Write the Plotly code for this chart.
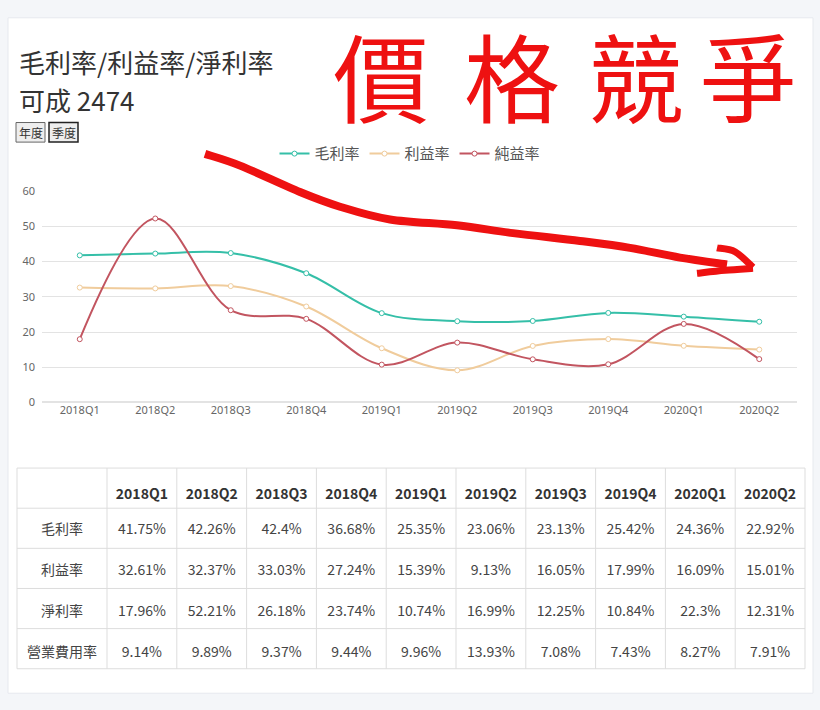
import plotly.graph_objects as go

# ---------------- data ----------------
quarters = ["2018Q1", "2018Q2", "2018Q3", "2018Q4", "2019Q1",
            "2019Q2", "2019Q3", "2019Q4", "2020Q1", "2020Q2"]
gross_margin = [41.75, 42.26, 42.4, 36.68, 25.35, 23.06, 23.13, 25.42, 24.36, 22.92]
operating_margin = [32.61, 32.37, 33.03, 27.24, 15.39, 9.13, 16.05, 17.99, 16.09, 15.01]
net_margin = [17.96, 52.21, 26.18, 23.74, 10.74, 16.99, 12.25, 10.84, 22.3, 12.31]
opex_ratio = [9.14, 9.89, 9.37, 9.44, 9.96, 13.93, 7.08, 7.43, 8.27, 7.91]

legend_names = ["毛利率", "利益率", "純益率"]
row_labels = ["毛利率", "利益率", "淨利率", "營業費用率"]
title_line1 = "毛利率/利益率/淨利率"
title_line2 = "可成 2474"
buttons = ["年度", "季度"]
handwritten = ["價", "格", "競", "爭"]

# ---------------- layout helpers ----------------
W, H = 820, 710


def px(x):
    return x / W


def py(y):
    return 1 - y / H


FONT = "Noto Sans CJK TC, Noto Sans, sans-serif"
colors = ["#35bfa8", "#f0cc9c", "#c25560"]

fig = go.Figure()

for name, vals, col in zip(legend_names, [gross_margin, operating_margin, net_margin], colors):
    fig.add_trace(go.Scatter(
        x=quarters, y=vals, name=name, mode="lines+markers",
        line=dict(color=col, width=2, shape="spline", smoothing=1.0),
        marker=dict(symbol="circle", size=5, color="white", line=dict(color=col, width=1)),
        hoverinfo="x+y+name",
    ))


def fmt(v):
    return f"{v:g}%"


table_cols = [row_labels] + [
    [fmt(gross_margin[i]), fmt(operating_margin[i]), fmt(net_margin[i]), fmt(opex_ratio[i])]
    for i in range(len(quarters))
]

# table geometry (pixels)
T_LEFT, T_TOP, ROW_H = 17, 470, 41
col_w = [90] + [69.8] * len(quarters)
n_rows = 1 + len(row_labels)
T_RIGHT = T_LEFT + sum(col_w)
T_BOTTOM = T_TOP + ROW_H * n_rows
TEXT_SHIFT = 7

fig.add_trace(go.Table(
    domain=dict(x=[px(T_LEFT), px(T_RIGHT)],
                y=[py(T_BOTTOM + TEXT_SHIFT + 2), py(T_TOP + TEXT_SHIFT)]),
    columnwidth=col_w,
    header=dict(
        values=[""] + [f"<b>{q}</b>" for q in quarters],
        align="center", height=ROW_H,
        font=dict(family=FONT, size=14, color="#333"),
        fill_color="rgba(0,0,0,0)", line_color="rgba(0,0,0,0)", line_width=0,
    ),
    cells=dict(
        values=table_cols, align="center", height=ROW_H,
        font=dict(family=FONT, size=14, color="#444"),
        fill_color="rgba(0,0,0,0)", line_color="rgba(0,0,0,0)", line_width=0,
    ),
))

# ---------------- decorations ----------------
shapes = [
    dict(type="rect", xref="paper", yref="paper", x0=px(8), x1=px(813), y0=py(700), y1=py(10),
         fillcolor="white", line=dict(color="#e6e9ee", width=1), layer="below"),
    dict(type="rect", xref="paper", yref="paper", x0=px(16), x1=px(45), y0=py(137), y1=py(117),
         fillcolor="#eeeeee", line=dict(color="#666666", width=1), layer="above"),
    dict(type="rect", xref="paper", yref="paper", x0=px(49), x1=px(78), y0=py(137), y1=py(117),
         fillcolor="#eeeeee", line=dict(color="#222222", width=1.5), layer="above"),
]

# table grid lines
for r in range(n_rows + 1):
    yy = T_TOP + r * ROW_H
    shapes.append(dict(type="line", xref="paper", yref="paper", x0=px(T_LEFT), x1=px(T_RIGHT),
                       y0=py(yy), y1=py(yy), line=dict(color="#dddddd", width=1), layer="below"))
xx = T_LEFT
for c in range(len(col_w) + 1):
    shapes.append(dict(type="line", xref="paper", yref="paper", x0=px(xx), x1=px(xx),
                       y0=py(T_TOP), y1=py(T_BOTTOM), line=dict(color="#dddddd", width=1),
                       layer="below"))
    if c < len(col_w):
        xx += col_w[c]

# hand-drawn arrow (decoration), catmull-rom -> bezier in paper coords
arrow_pts = [(205, 149), (240, 161), (300, 188), (340, 203), (390, 216), (457, 222),
             (513, 230), (580, 238), (630, 245), (680, 255), (727, 262)]


def smooth_path(pts):
    P = [(px(x), py(y)) for x, y in pts]
    d = f"M {P[0][0]},{P[0][1]}"
    for i in range(len(P) - 1):
        p0 = P[i - 1] if i > 0 else P[i]
        p1, p2 = P[i], P[i + 1]
        p3 = P[i + 2] if i + 2 < len(P) else P[i + 1]
        c1 = (p1[0] + (p2[0] - p0[0]) / 6, p1[1] + (p2[1] - p0[1]) / 6)
        c2 = (p2[0] - (p3[0] - p1[0]) / 6, p2[1] - (p3[1] - p1[1]) / 6)
        d += f" C {c1[0]},{c1[1]} {c2[0]},{c2[1]} {p2[0]},{p2[1]}"
    return d


red = "#ee1111"
shapes.append(dict(type="path", xref="paper", yref="paper", path=smooth_path(arrow_pts),
                   line=dict(color=red, width=8), layer="above"))
shapes.append(dict(type="path", xref="paper", yref="paper",
                   path=smooth_path([(697, 271), (725, 268), (753, 266)]),
                   line=dict(color=red, width=7), layer="above"))
shapes.append(dict(type="path", xref="paper", yref="paper",
                   path=smooth_path([(717, 245), (735, 249), (753, 265)]),
                   line=dict(color=red, width=7), layer="above"))

annotations = [
    dict(text=title_line1, x=px(17), y=py(55), xref="paper", yref="paper", xanchor="left",
         yanchor="middle", showarrow=False, font=dict(family=FONT, size=26, color="#333")),
    dict(text=title_line2, x=px(17), y=py(93), xref="paper", yref="paper", xanchor="left",
         yanchor="middle", showarrow=False, font=dict(family=FONT, size=26, color="#333")),
    dict(text=buttons[0], x=px(30.5), y=py(127), xref="paper", yref="paper", xanchor="center",
         yanchor="middle", showarrow=False, font=dict(family=FONT, size=12, color="#333")),
    dict(text=buttons[1], x=px(63.5), y=py(127), xref="paper", yref="paper", xanchor="center",
         yanchor="middle", showarrow=False, font=dict(family=FONT, size=12, color="#333")),
]
for ch, cx in zip(handwritten, [381, 512, 636, 748]):
    annotations.append(dict(text=ch, x=px(cx), y=py(67), xref="paper", yref="paper",
                            xanchor="center", yanchor="middle", showarrow=False,
                            font=dict(family=FONT, size=96, color=red)))

fig.update_layout(
    width=W, height=H,
    margin=dict(l=0, r=0, t=0, b=0),
    paper_bgcolor="#f4f6f9",
    plot_bgcolor="rgba(0,0,0,0)",
    font=dict(family=FONT, color="#666"),
    showlegend=True,
    legend=dict(orientation="h", x=0.5, y=py(149), xanchor="center", yanchor="middle",
                font=dict(family=FONT, size=15, color="#555"), itemwidth=30,
                bgcolor="rgba(0,0,0,0)"),
    xaxis=dict(type="category", domain=[px(42), px(797)], range=[-0.5, len(quarters) - 0.5],
               showgrid=False, showline=False, zeroline=False, ticks="",
               tickfont=dict(size=11, color="#666", family="Noto Sans, sans-serif"),
               fixedrange=True),
    yaxis=dict(domain=[py(403), py(187)], range=[0, 60], dtick=10, showgrid=True,
               gridcolor="#e3e3e3", gridwidth=1, zeroline=True, zerolinecolor="#e3e3e3",
               showline=False, ticks="", ticklabelstandoff=6,
               tickfont=dict(size=11, color="#666", family="Noto Sans, sans-serif"),
               fixedrange=True),
    shapes=shapes,
    annotations=annotations,
)

fig.write_html(
    "out.html",
    config={"displayModeBar": False},
    post_script="document.body.style.margin='0';document.body.style.background='#f4f6f9';",
)
